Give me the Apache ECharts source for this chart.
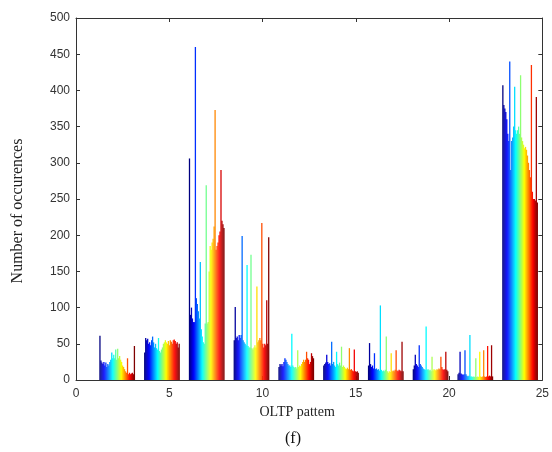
<!DOCTYPE html>
<html>
<head>
<meta charset="utf-8">
<script src="https://cdn.jsdelivr.net/npm/echarts@6/dist/echarts.min.js"></script>
<style>
  html, body { margin: 0; padding: 0; background: #fff; }
  #chart { width: 552px; height: 452px; }
</style>
</head>
<body>
<div id="chart"></div>
<script>
  // x position of each OLTP pattern group
  var patternX = [2.2, 4.6, 7.0, 9.4, 11.8, 14.2, 16.6, 19.0, 21.4, 23.8]

  // occurrences per group, 36 bars each (jet colour order)
  var group1 = [61, 27, 24, 22, 25, 20, 24, 18, 22, 20, 25, 28, 38, 30, 35, 30, 42, 28, 43, 30, 33, 28, 25, 20, 18, 15, 12, 10, 30, 8, 10, 8, 9, 10, 8, 47]
  var group2 = [38, 58, 55, 57, 50, 52, 48, 55, 60, 52, 45, 50, 44, 42, 58, 40, 38, 42, 45, 50, 52, 55, 52, 50, 54, 48, 55, 53, 50, 55, 56, 54, 50, 52, 45, 50]
  var group3 = [306, 90, 100, 85, 80, 80, 460, 113, 105, 95, 85, 163, 70, 60, 52, 50, 78, 269, 78, 80, 150, 185, 180, 190, 195, 212, 373, 180, 185, 190, 200, 205, 290, 220, 215, 210]
  var group4 = [55, 101, 58, 60, 55, 62, 58, 62, 199, 55, 52, 50, 48, 159, 47, 45, 45, 173, 44, 42, 45, 48, 45, 129, 52, 55, 58, 55, 217, 50, 45, 50, 48, 110, 50, 197]
  var group5 = [18, 22, 20, 22, 19, 25, 30, 28, 25, 22, 20, 20, 18, 64, 20, 18, 17, 18, 16, 41, 18, 20, 19, 22, 25, 28, 25, 28, 39, 30, 28, 22, 25, 37, 33, 30]
  var group6 = [20, 22, 24, 35, 25, 22, 23, 20, 53, 22, 25, 20, 18, 39, 22, 20, 24, 20, 46, 18, 20, 18, 16, 15, 17, 15, 44, 14, 15, 13, 12, 42, 12, 11, 12, 10]
  var group7 = [20, 51, 22, 18, 20, 16, 37, 15, 16, 14, 15, 13, 103, 14, 12, 13, 12, 14, 60, 12, 10, 12, 11, 37, 12, 13, 12, 14, 41, 13, 12, 14, 13, 12, 53, 12]
  var group8 = [15, 20, 35, 22, 20, 18, 48, 22, 20, 18, 16, 15, 14, 74, 14, 15, 13, 14, 12, 32, 13, 15, 14, 13, 15, 14, 16, 15, 32, 18, 15, 14, 15, 39, 14, 12]
  var group9 = [8, 10, 39, 9, 8, 7, 8, 41, 8, 6, 5, 6, 62, 5, 5, 4, 5, 4, 30, 4, 5, 4, 39, 5, 4, 5, 41, 5, 4, 5, 47, 5, 6, 5, 48, 5]
  var group10 = [407, 380, 375, 370, 360, 340, 330, 440, 290, 330, 335, 350, 405, 345, 340, 345, 350, 340, 421, 335, 330, 325, 320, 322, 318, 310, 300, 290, 280, 435, 260, 250, 250, 248, 391, 245]

  var groups = [group1, group2, group3, group4, group5, group6, group7, group8, group9, group10]

  var xTicks = [0, 5, 10, 15, 20, 25]
  var yTicks = [0, 50, 100, 150, 200, 250, 300, 350, 400, 450, 500]

  var nBars = group1.length
  var groupW = 1.9
  var barW = groupW / nBars

  // matlab jet colormap
  function jet (t) {
    function c (v) { return Math.round(255 * Math.max(0, Math.min(1, v))) }
    var r = c(1.5 - Math.abs(4 * t - 3))
    var g = c(1.5 - Math.abs(4 * t - 2))
    var b = c(1.5 - Math.abs(4 * t - 1))
    return 'rgb(' + r + ',' + g + ',' + b + ')'
  }

  var items = []
  groups.forEach(function (arr, gi) {
    arr.forEach(function (v, j) {
      items.push([gi, j, v])
    })
  })

  var chart = echarts.init(document.getElementById('chart'))
  var axisCol = '#333'
  var tickFont = { color: '#333', fontSize: 12, fontFamily: 'Liberation Sans' }

  function boxAxis (extra) {
    return Object.assign({
      type: 'value',
      axisLine: { show: true, onZero: false, lineStyle: { color: axisCol } },
      axisTick: { show: true, inside: true, length: 4, lineStyle: { color: axisCol } },
      splitLine: { show: false }
    }, extra)
  }

  chart.setOption({
    animation: false,
    grid: { left: 76, right: 3, top: 18, bottom: 72 },
    title: {
      text: '(f)',
      left: 280,
      top: 426,
      textStyle: { fontFamily: 'Liberation Serif', fontWeight: 'normal', fontSize: 16, color: '#111' }
    },
    xAxis: [boxAxis({
      position: 'bottom',
      min: xTicks[0],
      max: xTicks[xTicks.length - 1],
      interval: 5,
      name: 'OLTP pattem',
      nameLocation: 'middle',
      nameGap: 22,
      nameTextStyle: { fontFamily: 'Liberation Serif', fontSize: 14, color: '#222', padding: [0, 24, 0, 0] },
      axisLabel: Object.assign({ margin: 8 }, tickFont)
    }), boxAxis({
      position: 'top',
      min: xTicks[0],
      max: xTicks[xTicks.length - 1],
      interval: 5,
      axisLabel: { show: false }
    })],
    yAxis: [boxAxis({
      position: 'left',
      min: yTicks[0],
      max: yTicks[yTicks.length - 1],
      interval: 50,
      name: 'Number of occurences',
      nameLocation: 'middle',
      nameGap: 50,
      nameTextStyle: { fontFamily: 'Liberation Serif', fontSize: 16, color: '#222', padding: [0, 24, 0, 0] },
      axisLabel: Object.assign({ margin: 6 }, tickFont)
    }), boxAxis({
      position: 'right',
      min: yTicks[0],
      max: yTicks[yTicks.length - 1],
      interval: 50,
      axisLabel: { show: false }
    })],
    series: [{
      type: 'custom',
      xAxisIndex: 0,
      yAxisIndex: 0,
      data: items,
      renderItem: function (params, api) {
        var g = api.value(0)
        var j = api.value(1)
        var v = api.value(2)
        var x0 = patternX[g] - groupW / 2 + j * barW
        var p1 = api.coord([x0, v])
        var p2 = api.coord([x0 + barW, 0])
        return {
          type: 'rect',
          shape: { x: p1[0], y: p1[1], width: p2[0] - p1[0] + 0.3, height: p2[1] - p1[1] },
          style: { fill: jet(j / (nBars - 1)) }
        }
      }
    }]
  })
</script>
</body>
</html>
